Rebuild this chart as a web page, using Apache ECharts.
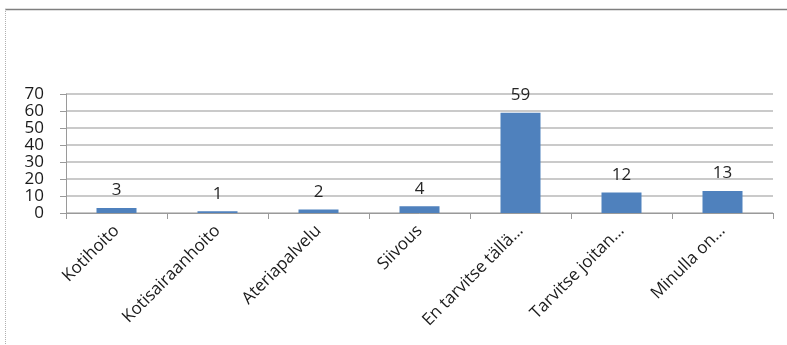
<!DOCTYPE html>
<html>
<head>
<meta charset="utf-8">
<script src="https://cdn.jsdelivr.net/npm/echarts@6/dist/echarts.min.js"></script>
<style>
  html, body { margin: 0; padding: 0; background: #fff; }
  #chart { width: 787px; height: 345px; }
</style>
</head>
<body>
<div id="chart"></div>
<script>
// Service categories and response counts
const categories = [
  'Kotihoito',
  'Kotisairaanhoito',
  'Ateriapalvelu',
  'Siivous',
  'En tarvitse tällä…',
  'Tarvitse joitan…',
  'Minulla on…'
];
const counts = [3, 1, 2, 4, 59, 12, 13];
const yTicks = { min: 0, max: 70, step: 10 };

const chart = echarts.init(document.getElementById('chart'), null, { renderer: 'canvas' });
const font = '"Open Sans", "Liberation Sans", sans-serif';

chart.setOption({
  animation: false,
  backgroundColor: '#ffffff',
  graphic: [
    // chart frame
    { type: 'line', shape: { x1: 5, y1: 9.5, x2: 787, y2: 9.5 },
      style: { stroke: '#7f7f7f', lineWidth: 1.5 } },
    { type: 'line', shape: { x1: 5.5, y1: 9, x2: 5.5, y2: 345 },
      style: { stroke: '#b0b0b0', lineWidth: 1, lineDash: [1, 1] } }
  ],
  grid: { left: 66, right: 14, top: 94, bottom: 132 },
  xAxis: {
    type: 'category',
    data: categories,
    axisLine: { lineStyle: { color: '#9a9a9a', width: 1 } },
    axisTick: { show: true, length: 6, alignWithLabel: false, lineStyle: { color: '#9a9a9a' } },
    axisLabel: {
      interval: 0, rotate: 45, margin: 15,
      color: '#1a1a1a', fontSize: 17, fontFamily: font
    }
  },
  yAxis: {
    type: 'value',
    min: yTicks.min, max: yTicks.max, interval: yTicks.step,
    axisLine: { show: true, lineStyle: { color: '#9a9a9a', width: 1 } },
    axisTick: { show: true, length: 6, lineStyle: { color: '#9a9a9a' } },
    splitLine: { lineStyle: { color: '#b8b8b8', width: 1.5 } },
    axisLabel: {
      margin: 22, color: '#1a1a1a', fontSize: 17, fontFamily: font,
      lineHeight: 17
    }
  },
  series: [{
    type: 'bar',
    data: counts,
    barWidth: 40,
    itemStyle: { color: '#4f81bd' },
    label: {
      show: true, position: 'top', distance: 9,
      color: '#262626', fontSize: 17, fontFamily: font
    }
  }]
});
</script>
</body>
</html>
